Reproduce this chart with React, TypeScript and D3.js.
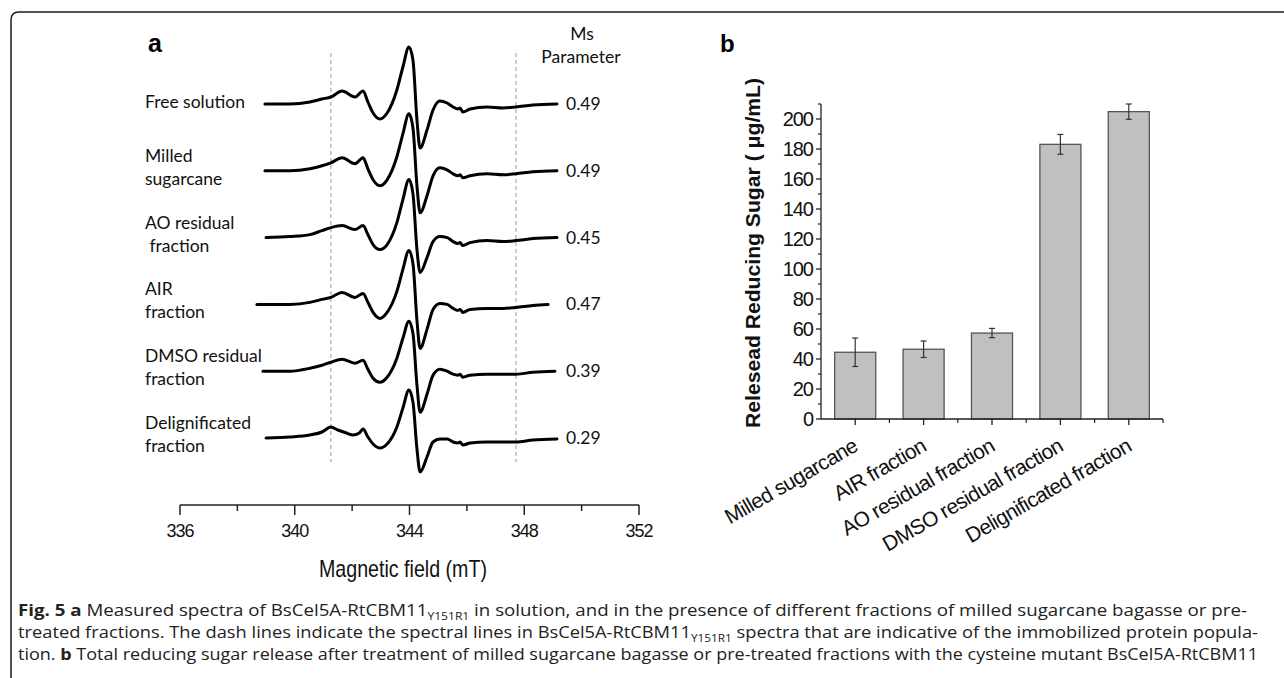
import React from 'react';
import * as d3 from 'd3';

type Pt = [number, number];

// ---- panel a: EPR spectra (field in mT, intensity in a.u.) ----
const traceLabels: string[][] = [
  ['Free solution'],
  ['Milled', 'sugarcane'],
  ['AO residual', ' fraction'],
  ['AIR', 'fraction'],
  ['DMSO residual', 'fraction'],
  ['Delignificated', 'fraction'],
];
const msParameter = ['0.49', '0.49', '0.45', '0.47', '0.39', '0.29'];

const freeSolution: Pt[] = [
  [338.96, 0], [339.83, 0], [340.53, 0.02], [340.95, 0.05], [341.26, 0.07], [341.65, 0.13], [342.10, 0.07],
  [342.38, 0.13], [342.55, 0.02], [342.73, -0.09], [342.97, -0.15], [343.22, -0.09], [343.56, 0.14], [343.77, 0.37],
  [343.98, 0.57], [344.12, 0.44], [344.26, -0.16], [344.37, -0.44], [344.61, -0.26], [344.82, -0.06], [345.06, 0.03],
  [345.31, 0.01], [345.52, -0.03], [345.69, -0.05], [345.76, -0.04], [345.86, -0.08], [346.11, -0.05], [346.70, -0.03],
  [347.26, -0.04], [347.71, -0.03], [348.30, -0.01], [349.14, 0],
];
const milledSugarcane: Pt[] = [
  [338.96, 0], [339.83, 0], [340.53, 0.02], [340.95, 0.05], [341.26, 0.08], [341.65, 0.13], [342.10, 0.07],
  [342.38, 0.13], [342.55, 0.02], [342.73, -0.09], [342.97, -0.15], [343.22, -0.09], [343.56, 0.14], [343.77, 0.37],
  [343.98, 0.57], [344.12, 0.43], [344.26, -0.15], [344.37, -0.42], [344.61, -0.25], [344.82, -0.05], [345.06, 0.03],
  [345.31, 0.01], [345.52, -0.03], [345.69, -0.05], [345.76, -0.04], [345.86, -0.07], [346.11, -0.05], [346.70, -0.03],
  [347.26, -0.04], [347.71, -0.03], [348.30, -0.01], [349.14, 0],
];
const aoResidual: Pt[] = [
  [339.00, 0], [339.83, 0.01], [340.53, 0.03], [340.95, 0.07], [341.26, 0.10], [341.65, 0.12], [342.10, 0.08],
  [342.38, 0.12], [342.55, 0.03], [342.73, -0.07], [342.97, -0.12], [343.22, -0.07], [343.56, 0.15], [343.77, 0.38],
  [343.98, 0.58], [344.12, 0.44], [344.26, -0.12], [344.37, -0.35], [344.61, -0.20], [344.82, -0.04], [345.06, 0.01],
  [345.31, 0.0], [345.52, -0.04], [345.69, -0.06], [345.76, -0.05], [345.86, -0.08], [346.11, -0.05], [346.70, -0.03],
  [347.26, -0.04], [347.71, -0.03], [348.30, -0.01], [349.14, 0],
];
const airFraction: Pt[] = [
  [338.68, 0], [339.83, 0], [340.53, 0.02], [340.95, 0.05], [341.26, 0.07], [341.65, 0.12], [342.10, 0.07],
  [342.38, 0.11], [342.55, 0.02], [342.73, -0.08], [342.97, -0.14], [343.22, -0.08], [343.56, 0.13], [343.77, 0.35],
  [343.98, 0.54], [344.12, 0.41], [344.26, -0.16], [344.37, -0.44], [344.61, -0.25], [344.82, -0.05], [345.06, 0.01],
  [345.31, 0.0], [345.52, -0.04], [345.69, -0.06], [345.76, -0.05], [345.86, -0.08], [346.11, -0.05], [346.70, -0.04],
  [347.26, -0.04], [347.71, -0.03], [348.30, -0.01], [348.83, 0],
];
const dmsoResidual: Pt[] = [
  [338.89, 0], [339.83, 0], [340.53, 0.03], [340.95, 0.06], [341.26, 0.09], [341.65, 0.12], [342.10, 0.08],
  [342.38, 0.11], [342.55, 0.02], [342.73, -0.07], [342.97, -0.11], [343.22, -0.06], [343.56, 0.13], [343.77, 0.33],
  [343.98, 0.50], [344.12, 0.38], [344.26, -0.14], [344.37, -0.41], [344.61, -0.23], [344.82, -0.04], [345.06, 0.02],
  [345.31, 0.0], [345.52, -0.03], [345.69, -0.04], [345.76, -0.03], [345.86, -0.06], [346.11, -0.04], [346.70, -0.03],
  [347.26, -0.03], [347.71, -0.03], [348.30, -0.01], [349.07, 0],
];
const delignificated: Pt[] = [
  [339.00, 0], [339.83, 0.01], [340.53, 0.03], [340.95, 0.06], [341.26, 0.11], [341.50, 0.08], [341.80, 0.05],
  [342.03, 0.03], [342.25, 0.05], [342.38, 0.09], [342.55, 0.01], [342.73, -0.06], [342.97, -0.10], [343.22, -0.06],
  [343.56, 0.11], [343.77, 0.30], [343.98, 0.48], [344.12, 0.36], [344.26, -0.11], [344.37, -0.34], [344.61, -0.19],
  [344.82, -0.04], [345.06, -0.01], [345.31, -0.01], [345.52, -0.04], [345.69, -0.05], [345.76, -0.04], [345.86, -0.07],
  [346.11, -0.05], [346.70, -0.04], [347.26, -0.04], [347.71, -0.04], [348.30, -0.02], [349.14, -0.01],
];
const spectra = [freeSolution, milledSugarcane, aoResidual, airFraction, dmsoResidual, delignificated];
const dashedFields = [341.26, 347.71];
const fieldTicks = [336, 340, 344, 348, 352];
const fieldMinorTicks = [338, 342, 346, 350];

// ---- panel b: released reducing sugar ----
const fractions = ['Milled sugarcane', 'AIR fraction', 'AO residual fraction', 'DMSO residual fraction', 'Delignificated fraction'];
const sugarRelease = [44.5, 46.5, 57.3, 183.1, 204.9];
const sugarError = [9.5, 5.5, 3.1, 6.6, 5.1];
const sugarTicks = [0, 20, 40, 60, 80, 100, 120, 140, 160, 180, 200];
const sugarMinorTicks = [10, 30, 50, 70, 90, 110, 130, 150, 170, 190, 210];

const calibri = 'Lato, "Open Sans", sans-serif';
const arial = '"Liberation Sans", Arial, sans-serif';
const caption = '"Open Sans", "Noto Sans", sans-serif';

export default function App() {
  // panel a scales
  const x = d3.scaleLinear().domain([336, 352]).range([180, 639]);
  const rows = d3.scalePoint<number>().domain(d3.range(spectra.length)).range([104, 438]);
  const amp = d3.scaleLinear().domain([-1, 1]).range([100, -100]);
  const axisA = 505;

  // panel b scales
  const xb = d3.scaleBand<string>().domain(fractions).range([821, 1163]).paddingInner(0.4).paddingOuter(0.2);
  const yb = d3.scaleLinear().domain([0, 210]).range([419, 104]);

  return (
    <div style={{ position: 'absolute', left: 0, top: 0 }}>
      <svg width={1284} height={678} style={{ display: 'block', background: '#fff' }}>
        {/* frame */}
        <path d="M11,678 L11,20 Q11,12 19,12 L1284,12" fill="none" stroke="#1a1a1a" strokeWidth={1.5} />

        {/* ===== panel a ===== */}
        <text x={148} y={52} fontFamily={arial} fontWeight="bold" fontSize={25}>a</text>
        {dashedFields.map((f) => (
          <line key={f} x1={x(f)} x2={x(f)} y1={53} y2={462} stroke="#999" strokeWidth={1} strokeDasharray="4,3" />
        ))}
        {spectra.map((s, i) => {
          const base = rows(i)!;
          const line = d3
            .line<Pt>()
            .x((d) => x(d[0]))
            .y((d) => base + amp(d[1]))
            .curve(d3.curveMonotoneX);
          return <path key={i} d={line(s)!} fill="none" stroke="#000" strokeWidth={3} strokeLinejoin="round" strokeLinecap="round" />;
        })}
        {traceLabels.map((lines, i) => {
          const base = rows(i)!;
          const ys = lines.length === 1 ? [base + 4] : [base - 9, base + 14];
          return lines.map((t, j) => (
            <text key={i + '-' + j} x={145} y={ys[j]} fontFamily={calibri} fontSize={17.5} fill="#111" style={{ whiteSpace: 'pre' }}>
              {t}
            </text>
          ));
        })}
        <text x={582} y={40} textAnchor="middle" fontFamily={calibri} fontSize={17.5} fill="#111">Ms</text>
        <text x={581} y={63} textAnchor="middle" fontFamily={calibri} fontSize={17.5} fill="#111">Parameter</text>
        {msParameter.map((m, i) => (
          <text key={i} x={566} y={rows(i)! + 6} fontFamily={calibri} fontSize={17.5} fill="#111">{m}</text>
        ))}

        {/* x axis a */}
        <line x1={x(336)} x2={x(352)} y1={axisA} y2={axisA} stroke="#222" strokeWidth={1.5} />
        {fieldTicks.map((t) => (
          <g key={t}>
            <line x1={x(t)} x2={x(t)} y1={axisA} y2={axisA + 10} stroke="#222" strokeWidth={1.5} />
            <text x={x(t)} y={537} textAnchor="middle" fontFamily={arial} fontSize={18} letterSpacing={-1} fill="#111">{t}</text>
          </g>
        ))}
        {fieldMinorTicks.map((t) => (
          <line key={t} x1={x(t)} x2={x(t)} y1={axisA} y2={axisA + 6} stroke="#222" strokeWidth={1.5} />
        ))}
        <text x={403} y={577} textAnchor="middle" fontFamily={arial} fontSize={24} textLength={168} lengthAdjust="spacingAndGlyphs" fill="#111">
          Magnetic field (mT)
        </text>

        {/* ===== panel b ===== */}
        <text x={720} y={52} fontFamily={arial} fontWeight="bold" fontSize={24}>b</text>
        {fractions.map((f, i) => {
          const x0 = xb(f)!;
          const cx = x0 + xb.bandwidth() / 2;
          const top = yb(sugarRelease[i] + sugarError[i]);
          const bot = yb(sugarRelease[i] - sugarError[i]);
          return (
            <g key={f}>
              <rect x={x0} y={yb(sugarRelease[i])} width={xb.bandwidth()} height={yb(0) - yb(sugarRelease[i])} fill="#c0c0c0" stroke="#555" strokeWidth={1.3} />
              <line x1={cx} x2={cx} y1={top} y2={bot} stroke="#333" strokeWidth={1.2} />
              <line x1={cx - 3} x2={cx + 3} y1={top} y2={top} stroke="#333" strokeWidth={1.2} />
              <line x1={cx - 3} x2={cx + 3} y1={bot} y2={bot} stroke="#333" strokeWidth={1.2} />
            </g>
          );
        })}
        {/* y axis b */}
        <line x1={821} x2={821} y1={yb(0)} y2={yb(210)} stroke="#222" strokeWidth={1.3} />
        {sugarTicks.map((t) => (
          <g key={t}>
            <line x1={816} x2={821} y1={yb(t)} y2={yb(t)} stroke="#222" strokeWidth={1.3} />
            <text x={813} y={yb(t)} dy="0.36em" textAnchor="end" fontFamily={arial} fontSize={20} letterSpacing={-1} fill="#111">{t}</text>
          </g>
        ))}
        {sugarMinorTicks.map((t) => (
          <line key={t} x1={818} x2={821} y1={yb(t)} y2={yb(t)} stroke="#222" strokeWidth={1.2} />
        ))}
        <text
          transform={`translate(760,253) rotate(-90)`}
          textAnchor="middle"
          fontFamily={arial}
          fontWeight="bold"
          fontSize={20}
          textLength={350}
          lengthAdjust="spacingAndGlyphs"
          fill="#111"
        >
          Relesead Reducing Sugar ( μg/mL)
        </text>
        {/* x axis b */}
        <line x1={821} x2={1163} y1={yb(0)} y2={yb(0)} stroke="#222" strokeWidth={1.3} />
        {fractions.map((f) => {
          const cx = xb(f)! + xb.bandwidth() / 2;
          return <line key={f} x1={cx} x2={cx} y1={yb(0)} y2={yb(0) + 6} stroke="#222" strokeWidth={1.3} />;
        })}
        {fractions.map((f) => {
          const edge = xb(f)! + xb.bandwidth() + (xb.step() - xb.bandwidth()) / 2;
          return <line key={f} x1={edge} x2={edge} y1={yb(0)} y2={yb(0) + 4} stroke="#222" strokeWidth={1.2} />;
        })}
        {fractions.map((f) => {
          const cx = xb(f)! + xb.bandwidth() / 2;
          return (
            <text key={f} transform={`translate(${cx + 4},450) rotate(-30)`} textAnchor="end" fontFamily={arial} fontSize={21} letterSpacing={-0.6} fill="#111">
              {f}
            </text>
          );
        })}

        {/* ===== caption ===== */}
        <text x={18} y={616} fontFamily={caption} fontSize={15.5} fill="#222" textLength={1229} lengthAdjust="spacingAndGlyphs">
          <tspan fontWeight="bold">Fig. 5</tspan>
          <tspan fontWeight="bold">{'  a'}</tspan>
          <tspan> Measured spectra of BsCel5A-RtCBM11</tspan>
          <tspan fontSize={10} dy={4}>Y151R1</tspan>
          <tspan dy={-4}> in solution, and in the presence of different fractions of milled sugarcane bagasse or pre-</tspan>
        </text>
        <text x={18} y={638} fontFamily={caption} fontSize={15.5} fill="#222" textLength={1240} lengthAdjust="spacingAndGlyphs">
          <tspan>treated fractions. The dash lines indicate the spectral lines in BsCel5A-RtCBM11</tspan>
          <tspan fontSize={10} dy={4}>Y151R1</tspan>
          <tspan dy={-4}> spectra that are indicative of the immobilized protein popula-</tspan>
        </text>
        <text x={18} y={660} fontFamily={caption} fontSize={15.5} fill="#222" textLength={1240} lengthAdjust="spacingAndGlyphs">
          <tspan>tion. </tspan>
          <tspan fontWeight="bold">b</tspan>
          <tspan> Total reducing sugar release after treatment of milled sugarcane bagasse or pre-treated fractions with the cysteine mutant BsCel5A-RtCBM11</tspan>
        </text>
      </svg>
    </div>
  );
}
